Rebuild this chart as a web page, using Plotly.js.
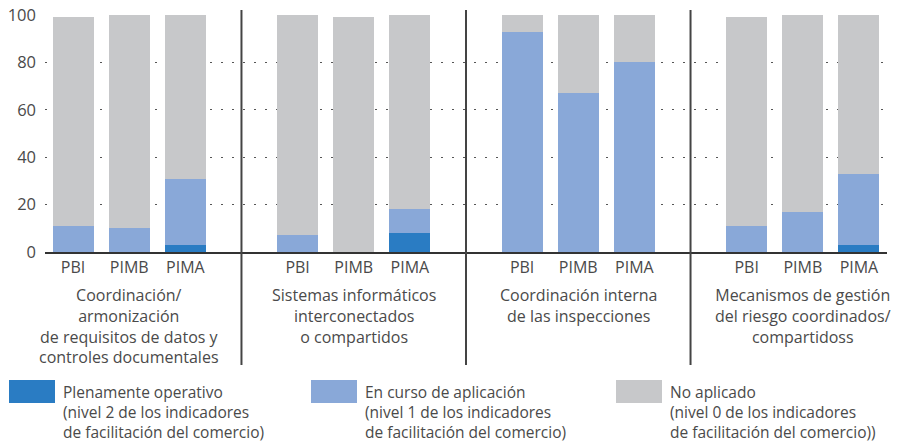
<!DOCTYPE html>
<html>
<head>
<meta charset="utf-8">
<script src="https://cdn.plot.ly/plotly-3.0.1.min.js"></script>
<style>html,body{margin:0;padding:0;background:#fff;}#chart{width:904px;height:445px;}</style>
</head>
<body>
<div id="chart"></div>
<script>
// ---- data ----
const groups = [
  "Coordinación/<br>armonización<br>de requisitos de datos y<br>controles documentales",
  "Sistemas informáticos<br>interconectados<br>o compartidos",
  "Coordinación interna<br>de las inspecciones",
  "Mecanismos de gestión<br>del riesgo coordinados/<br>compartidoss"
];
const barLabels = ["PBI", "PIMB", "PIMA"];
// order: group1 PBI,PIMB,PIMA, group2 ..., group3 ..., group4 ...
const plenamente = [0, 0, 3,   0, 0, 8,   0, 0, 0,   0, 0, 3];
const enCurso    = [11, 10, 28, 7, 0, 10, 93, 67, 80, 11, 17, 30];
const noAplicado = [88, 90, 69, 93, 99, 82, 7, 33, 20, 88, 83, 67];
const seriesNames = [
  "Plenamente operativo<br>(nivel 2 de los indicadores<br>de facilitación del comercio)",
  "En curso de aplicación<br>(nivel 1 de los indicadores<br>de facilitación del comercio)",
  "No aplicado<br>(nivel 0 de los indicadores<br>de facilitación del comercio))"
];
const colors = ["#2a7cc3", "#89a8d8", "#c7c8ca"];
const yTicks = [0, 20, 40, 60, 80, 100];

// ---- positions (slot layout: 3 bars + 1 gap per group) ----
const xs = [];
const tickText = [];
groups.forEach((g, gi) => barLabels.forEach((b, bi) => { xs.push(gi * 4 + bi); tickText.push(b); }));

const FONT = "Open Sans, sans-serif";
const TXT = "#4a4a4a";

const vals = [plenamente, enCurso, noAplicado];
const traces = vals.map((v, i) => ({
  type: "bar", x: xs, y: v, name: seriesNames[i],
  marker: {color: colors[i], line: {width: 0}},
  width: 0.73, showlegend: false, hoverinfo: "skip"
}));

// plot area pixel frame
const L = 45, W = 842, T = 15, H = 237;
const px = x => (x - L) / W;
const py = y => (T + H - y) / H;

const shapes = [];
const annotations = [];
// group separators
for (let gi = 0; gi < groups.length - 1; gi++) {
  shapes.push({type: "line", xref: "x", yref: "paper", x0: gi * 4 + 3, x1: gi * 4 + 3,
    y0: py(365), y1: py(10), line: {color: "#444", width: 2}});
}
// group labels
groups.forEach((g, gi) => {
  annotations.push({xref: "x", yref: "paper", x: gi * 4 + 1, y: py(282), text: g,
    showarrow: false, xanchor: "center", yanchor: "top", align: "center",
    font: {family: FONT, size: 16, color: TXT}});
});
// legend
const legX = [9, 311, 616];
seriesNames.forEach((n, i) => {
  shapes.push({type: "rect", xref: "paper", yref: "paper",
    x0: px(legX[i]), x1: px(legX[i] + 46), y0: py(403), y1: py(380),
    fillcolor: colors[i], line: {width: 0}});
  annotations.push({xref: "paper", yref: "paper", x: px(legX[i] + 52), y: py(379), text: n,
    showarrow: false, xanchor: "left", yanchor: "top", align: "left",
    font: {family: FONT, size: 15.5, color: TXT}});
});

const layout = {
  width: 904, height: 445,
  margin: {l: L, r: 904 - L - W, t: T, b: 445 - T - H, pad: 0},
  barmode: "stack",
  paper_bgcolor: "#fff", plot_bgcolor: "#fff",
  font: {family: FONT, color: TXT},
  xaxis: {range: [-0.5, 14.5], tickvals: xs, ticktext: tickText, showgrid: false,
    showline: true, linecolor: "#333", linewidth: 2, ticks: "", zeroline: false,
    tickfont: {family: FONT, size: 16, color: TXT}, ticklabelstandoff: 0, fixedrange: true},
  yaxis: {range: [0, 100], tickvals: yTicks, showgrid: true, gridcolor: "#555", gridwidth: 1,
    griddash: "2px,9px", zeroline: false, showline: false, ticks: "",
    tickfont: {family: FONT, size: 16.5, color: TXT}, ticklabelstandoff: 8, fixedrange: true},
  shapes: shapes, annotations: annotations, showlegend: false
};

Plotly.newPlot("chart", traces, layout, {staticPlot: true, displayModeBar: false});
</script>
</body>
</html>
